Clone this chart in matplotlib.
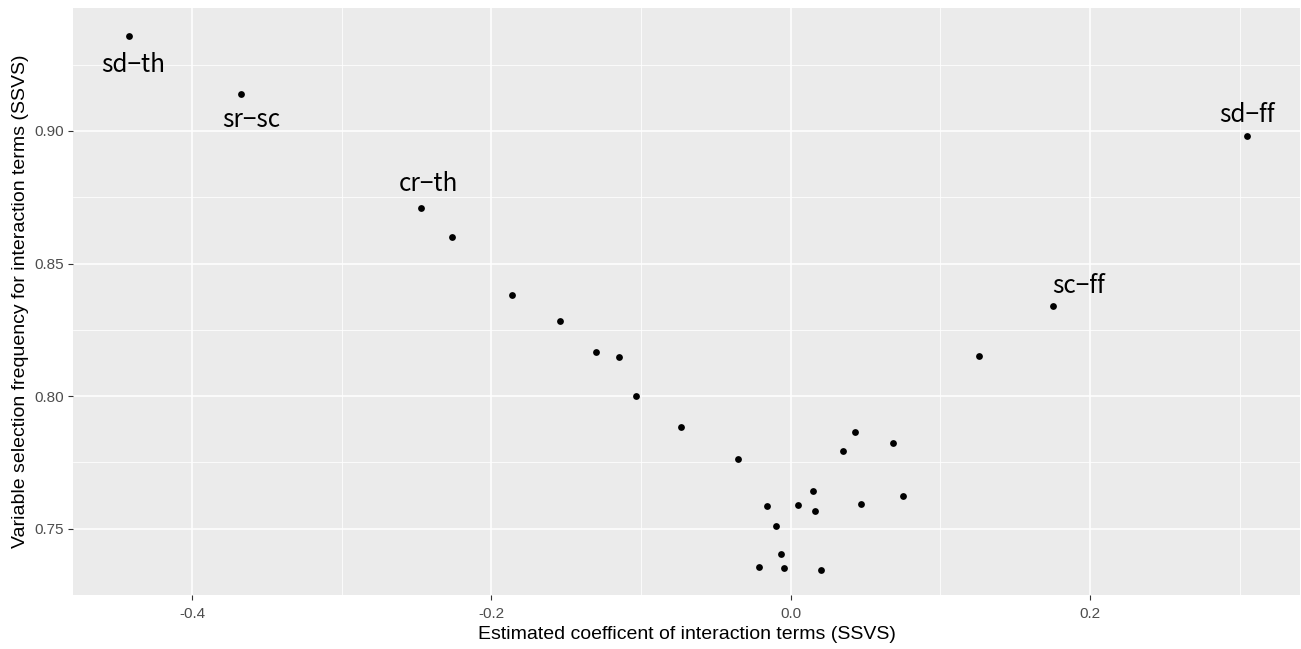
import numpy as np
import matplotlib
matplotlib.use("Agg")
import matplotlib.pyplot as plt

plt.rcParams['font.family'] = ['Liberation Sans', 'DejaVu Sans']

# estimated coefficient vs. selection frequency (SSVS)
coef = [-0.442, -0.367, -0.247, -0.226, -0.186, -0.154, -0.130, -0.115,
        -0.103, -0.073, -0.035, -0.016, -0.021, -0.010, -0.0067, -0.0045,
        0.0051, 0.0149, 0.0165, 0.0201, 0.0349, 0.0427, 0.0473, 0.0687,
        0.0753, 0.126, 0.1756, 0.3049]
freq = [0.9358, 0.9139, 0.8710, 0.8600, 0.8381, 0.8284, 0.8167, 0.8148,
        0.8000, 0.7883, 0.7763, 0.7586, 0.7357, 0.7512, 0.7403, 0.7352,
        0.7591, 0.7641, 0.7566, 0.7345, 0.7794, 0.7866, 0.7595, 0.7822,
        0.7625, 0.8152, 0.8340, 0.8980]
names = ["sd\u2212th", "sr\u2212sc", "cr\u2212th", "", "", "", "", "",
         "", "", "", "", "", "", "", "",
         "", "", "", "", "", "", "", "",
         "", "", "sc\u2212ff", "sd\u2212ff"]

# label offsets in pixels
offsets = {"sd\u2212th": (4, -29), "sr\u2212sc": (10, -26), "cr\u2212th": (7, 24),
           "sc\u2212ff": (25, 20), "sd\u2212ff": (0, 21)}

fig = plt.figure(figsize=(13.01, 6.49), dpi=100)
ax = fig.add_axes([0.0561, 0.0832, 0.9431, 0.9045])
ax.set_facecolor("#EBEBEB")
for s in ax.spines.values():
    s.set_visible(False)

ax.scatter(coef, freq, s=24, color="black", zorder=3, linewidths=0)

for x, y, n in zip(coef, freq, names):
    if n:
        ax.annotate(n, (x, y), xytext=offsets[n], textcoords="offset pixels",
                    ha="center", va="center", fontsize=17.5,
                    family=["Noto Sans CJK JP", "DejaVu Sans"], color="black")

ax.set_xlim(-0.4795, 0.3403)
ax.set_ylim(0.72512, 0.94636)
ax.set_xticks([-0.4, -0.2, 0.0, 0.2])
ax.set_xticklabels(["-0.4", "-0.2", "0.0", "0.2"])
ax.set_yticks([0.75, 0.80, 0.85, 0.90])
ax.set_yticklabels(["0.75", "0.80", "0.85", "0.90"])
ax.set_xticks([-0.3, -0.1, 0.1, 0.3], minor=True)
ax.set_yticks([0.725, 0.775, 0.825, 0.875, 0.925], minor=True)
ax.grid(which="major", color="white", linewidth=1.1)
ax.grid(which="minor", color="white", linewidth=0.55)
ax.set_axisbelow(True)
ax.tick_params(which="major", length=3.5, width=0.8, color="#333333",
               labelcolor="#4D4D4D", labelsize=11, pad=3)
ax.tick_params(axis="x", which="major", pad=5)
ax.tick_params(which="minor", length=0)

ax.set_xlabel("Estimated coefficent of interaction terms (SSVS)", fontsize=14, labelpad=4)
ax.set_ylabel("Variable selection frequency for interaction terms (SSVS)", fontsize=14, labelpad=4)

fig.savefig("out.png", dpi=100)
